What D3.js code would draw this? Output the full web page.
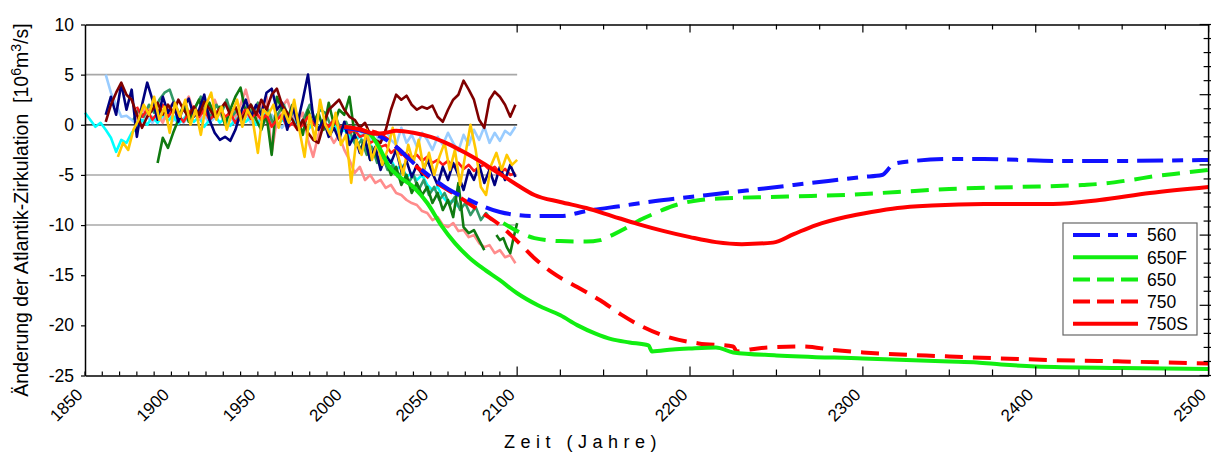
<!DOCTYPE html>
<html><head><meta charset="utf-8">
<script src="https://cdn.jsdelivr.net/npm/d3@7"></script>
<style>
body{margin:0;background:#fff}
svg{display:block;font-family:"Liberation Sans",Arial,Helvetica,sans-serif}
</style>
</head><body>
<svg id="chart" width="1211" height="454"></svg>
<script>
// ---------- tick labels ----------
const xTickLabels = [1850,1900,1950,2000,2050,2100,2200,2300,2400,2500];
const yTickLabels = [10,5,0,-5,-10,-15,-20,-25];
const gridValues = [5,-5,-10];

// ---------- noisy model / reconstruction series (start year, step 3 yrs) ----------
const navyValues = [1.0,2.8,1.0,4.1,1.5,3.5,-1.2,2.0,4.2,2.5,
  0.5,2.8,1.2,2.2,0.3,1.8,2.6,0.8,1.5,3.0,
  0.5,-0.8,-1.5,-1.2,-1.6,-0.5,1.2,2.5,0.8,2.0,
  1.0,3.2,3.6,1.5,2.2,-0.5,1.8,0.2,2.5,5.0,
  0.8,-0.5,0.5,-1.2,-0.3,-1.5,0.3,-2.0,-1.0,-2.8,
  -1.5,-3.5,-2.2,-4.5,-3.0,-3.8,-2.5,-4.6,-3.6,-5.2,
  -4.0,-5.0,-3.5,-4.8,-6.0,-4.2,-5.5,-3.8,-5.0,-6.5,
  -4.5,-5.5,-4.0,-5.8,-4.5,-6.0,-4.2,-5.5,-4.0,-5.2];
const maroonValues = [0.3,2.0,3.2,4.2,3.0,2.5,1.0,-0.3,0.8,1.5,
  2.2,1.0,2.0,1.2,2.5,1.5,0.8,1.8,1.0,2.3,
  1.6,0.8,1.5,2.2,1.0,1.8,0.5,1.2,2.0,1.0,
  2.5,1.5,3.0,3.6,2.0,1.2,0.5,-0.5,0.5,-0.8,
  -1.5,-1.8,0.0,1.5,2.0,2.5,1.5,0.8,0.5,-0.3,
  0.2,-1.0,-1.5,-1.8,-0.5,1.5,3.0,2.5,2.9,2.0,
  1.5,1.8,1.6,1.9,0.8,0.3,1.5,2.5,3.0,4.4,
  3.5,2.5,0.5,-0.3,2.5,3.3,2.8,2.0,0.8,2.0];
const lightBlueValues = [5.0,3.2,2.0,0.8,0.9,0.5,0.0,0.3,0.8,0.2,
  1.0,0.5,1.2,0.4,1.0,0.2,0.8,1.3,0.5,0.9,
  0.2,0.7,1.1,0.3,0.8,0.0,0.6,1.0,0.2,0.8,
  -0.2,0.5,1.0,0.3,-0.3,0.4,0.9,0.0,0.5,-0.5,
  0.2,-0.3,0.4,-0.5,0.0,-0.8,-0.2,-1.0,-0.5,-1.2,
  -0.6,-1.5,-0.8,-1.8,-0.5,-1.5,-2.0,-0.3,-1.8,-1.0,
  -2.2,-0.8,-1.5,-2.5,-1.2,-2.0,-0.8,-1.8,-2.6,-1.0,
  -2.0,-0.5,-1.5,-0.2,-1.8,-0.8,-1.6,-0.6,-1.0,-0.2];
const cyanValues = [1.2,0.5,-0.2,0.2,-0.5,-1.3,-2.7,-1.5,-1.8,-0.8,
  -0.3,0.5,0.0,0.8,0.2,1.0,0.4,0.9,0.1,0.6,
  1.2,0.3,0.8,-0.2,0.5,1.0,0.2,0.7,-0.1,0.5,
  1.1,0.3,0.8,0.0,0.6,1.2,0.4,-0.2,0.5,0.1,
  0.8,-0.3,0.3,-0.5,0.2,-0.4,0.5,-0.6,0.0,-0.8,
  -0.5,-1.2,-1.8,-1.0,-2.5,-2.0,-3.0,-2.5,-3.8,-3.5,
  -4.5,-4.0,-5.2,-4.8,-5.5,-5.0,-6.0,-6.5,-6.2,-7.2,
  -7.8,-7.5,-8.2];
const goldValues = [-3.2,-1.8,-2.5,-0.5,0.5,2.0,1.0,2.8,0.5,1.8,
  -0.8,2.2,0.8,2.5,0.0,1.5,-1.0,2.0,3.2,0.5,
  1.8,-0.5,1.2,2.5,-0.2,1.5,0.5,-2.8,1.5,1.0,
  2.0,-0.3,1.5,0.2,2.5,-0.5,-3.2,1.0,-1.5,2.5,
  0.0,-1.0,1.2,-2.0,-1.0,-5.8,-1.5,-3.0,-0.5,-3.5,
  -1.8,-4.0,-2.5,-0.3,-3.0,-5.0,-2.0,-3.8,-1.5,-4.5,
  -2.8,-5.0,-3.2,-1.8,-4.5,-2.5,-6.0,-3.0,0.0,-2.5,
  -6.2,-7.0,-4.0,-2.8,-4.5,-3.0,-4.0,-3.5];
const darkGreenValues = [-3.8,-1.3,-2.3,-0.8,0.5,2.0,0.3,1.5,2.5,1.0,
  2.2,0.8,1.8,0.0,1.5,2.8,3.7,1.2,2.0,0.5,
  -0.5,1.0,-3.0,2.8,1.5,0.5,2.0,0.8,-1.0,1.5,
  0.0,1.2,-0.5,2.2,0.0,1.5,1.0,2.8,-1.0,-2.5,
  -1.5,-3.5,-2.8,-4.2,-3.5,-5.0,-4.2,-6.0,-5.0,-6.8,
  -5.8,-7.0,-6.2,-7.8,-6.8,-8.5,-7.5,-9.2,-5.8,-10.2,
  -10.8,-10.5,-11.5,-12.5];
const darkGreen2Values = [-11.0,-11.5,-11.3,-12.2,-12.8,-11.2,-9.8];
const seaGreenValues = [0.5,1.5,0.8,2.0,1.2,2.5,3.2,3.5,2.0,1.0,
  2.2,0.5,1.8,2.8,1.5,0.8,2.0,1.2,2.5,0.8,
  1.5,0.2,1.8,1.0,2.2,0.5,1.5,0.0,1.2,2.0,
  0.5,1.5,-0.5,0.8,2.0,0.5,1.5,1.2,0.0,0.8,
  -0.5,0.3,-1.0,-2.2,-1.5,-3.0,-2.2,-3.8,-3.0,-4.5,
  -4.0,-5.2,-4.5,-5.8,-5.0,-6.5,-5.5,-7.0,-6.2,-7.5,
  -6.8,-8.0,-7.2,-8.5,-7.8,-9.0,-8.2,-9.5,-8.8,-9.5];
const salmonValues = [0.5,1.8,0.8,2.0,1.0,0.2,1.5,2.2,0.8,1.8,
  2.8,1.2,0.5,1.8,1.0,2.5,1.2,0.3,1.5,0.8,
  2.0,3.5,1.5,0.5,1.8,2.8,-2.8,0.5,1.8,2.5,
  1.0,0.3,1.2,-1.5,-3.2,-1.0,0.5,-0.8,-1.8,-1.0,
  -2.5,-3.5,-4.8,-4.2,-5.5,-5.0,-5.8,-5.5,-6.3,-6.0,
  -6.8,-7.0,-7.5,-7.8,-8.0,-8.6,-8.8,-9.5,-9.2,-10.0,
  -10.2,-9.8,-10.6,-10.5,-11.2,-11.0,-11.8,-12.2,-12.0,-12.8,
  -12.5,-13.2,-13.0,-13.8];
const thinRedValues = [1.8,0.8,1.5,0.5,1.2,2.0,0.8,1.5,1.0,0.3,
  1.2,1.8,0.8,1.5,0.5,1.0,1.6,0.8,1.2,0.2,
  1.0,1.5,0.6,1.2,0.5,1.0,-0.2,0.5,1.0,-0.3,
  0.2,-0.5,0.0,0.8,0.2,-0.5,0.3,-0.2,0.5,-0.3,
  0.0,-0.8,-0.5,-1.2,-1.0,-1.8,-1.5,-2.2,-2.0,-2.8,
  -2.4,-3.0,-2.8,-3.3,-3.0,-3.6,-3.2,-3.8,-3.5,-4.0,
  -3.6,-4.2,-3.8,-4.4,-4.0,-4.6,-4.2,-4.0,-4.5,-4.2,
  -4.8,-4.4,-5.0,-4.8];

// ---------- scenario runs [year, value] ----------
const run560 = [[2000,-0.3],[2010,-0.6],[2020,-1.1],[2030,-2.2],[2040,-3.8],[2050,-5.2],[2060,-6.4],
  [2070,-7.3],[2080,-8.1],[2090,-8.7],[2100,-9.0],[2110,-9.1],[2125,-9.1],[2140,-8.6],[2160,-8.1],
  [2180,-7.6],[2200,-7.2],[2220,-6.8],[2240,-6.4],[2260,-6.0],[2280,-5.6],[2300,-5.2],[2311,-5.0],
  [2318,-3.9],[2330,-3.6],[2350,-3.4],[2370,-3.4],[2390,-3.5],[2410,-3.6],[2450,-3.6],[2500,-3.5]];
const run650F = [[2000,-0.2],[2008,-0.5],[2014,-0.8],[2020,-2.2],[2026,-4.2],[2032,-5.2],[2040,-6.2],
  [2048,-7.8],[2056,-10.0],[2064,-11.8],[2072,-13.2],[2080,-14.3],[2090,-15.5],[2100,-16.8],[2112,-18.0],
  [2125,-19.0],[2135,-20.0],[2145,-20.8],[2155,-21.4],[2165,-21.7],[2176,-22.0],[2178,-22.6],[2190,-22.4],
  [2200,-22.3],[2215,-22.2],[2225,-22.7],[2250,-23.0],[2300,-23.3],[2350,-23.6],[2366,-23.7],[2380,-23.9],
  [2400,-24.1],[2450,-24.25],[2500,-24.35]];
const run650 = [[2092,-9.8],[2100,-10.6],[2110,-11.3],[2125,-11.6],[2140,-11.65],[2148,-11.5],[2155,-11.0],
  [2163,-10.3],[2171,-9.5],[2180,-8.8],[2190,-8.1],[2206,-7.5],[2225,-7.3],[2245,-7.2],[2270,-7.1],
  [2290,-7.0],[2320,-6.7],[2350,-6.4],[2390,-6.2],[2427,-6.0],[2440,-5.85],[2455,-5.5],[2470,-5.1],
  [2485,-4.8],[2500,-4.5]];
const run750 = [[2000,-0.3],[2010,-0.5],[2020,-0.9],[2030,-2.2],[2040,-3.9],[2050,-5.4],[2060,-6.5],
  [2070,-7.6],[2080,-8.8],[2090,-10.0],[2100,-11.6],[2110,-13.3],[2120,-14.7],[2135,-16.2],[2148,-17.5],
  [2160,-18.9],[2171,-20.0],[2186,-21.1],[2205,-21.8],[2225,-22.1],[2227,-22.6],[2235,-22.4],[2245,-22.2],
  [2265,-22.1],[2283,-22.45],[2300,-22.7],[2350,-23.1],[2408,-23.45],[2450,-23.6],[2500,-23.8]];
const run750S = [[2000,-0.2],[2010,-0.5],[2018,-0.9],[2024,-0.8],[2030,-0.6],[2040,-0.8],[2050,-1.2],
  [2060,-1.9],[2070,-2.8],[2080,-3.8],[2090,-4.9],[2100,-6.0],[2110,-7.0],[2125,-7.7],[2140,-8.3],
  [2155,-9.1],[2170,-9.9],[2185,-10.6],[2200,-11.2],[2215,-11.7],[2230,-11.9],[2248,-11.75],[2260,-10.9],
  [2273,-10.0],[2290,-9.2],[2305,-8.7],[2320,-8.3],[2340,-8.05],[2370,-7.9],[2410,-7.9],[2437,-7.5],
  [2466,-6.8],[2500,-6.2]];
const legendNames = ["560","650F","650","750","750S"];

// ---------- build ----------
const svg = d3.select("#chart");
const x = d3.scaleLinear().domain([1850,2500]).range([85,1208.6]);
const y = d3.scaleLinear().domain([-25,10]).range([375.5,24.5]);
const yRight = d3.scaleLinear().domain([0,5]).range([375.5,24.5]);
const FONT = "'Liberation Sans',Arial,sans-serif";

// gridlines (only for the historical panel)
svg.append("g").selectAll("line").data(gridValues).join("line")
  .attr("x1",x(1850)).attr("x2",x(2100)).attr("y1",d=>y(d)).attr("y2",d=>y(d))
  .attr("stroke","#a8a8a8").attr("stroke-width",1.6);
svg.append("line").attr("x1",x(1850)).attr("x2",x(2100)).attr("y1",y(0)).attr("y2",y(0))
  .attr("stroke","#000").attr("stroke-width",1.3);

const noisy = [
  {values: lightBlueValues, start:1862, step:3, color:"#99ccff"},
  {values: cyanValues, start:1850, step:3, color:"#00ffff"},
  {values: salmonValues, start:1880, step:3, color:"#ff8c8c"},
  {values: seaGreenValues, start:1878, step:3, color:"#339966"},
  {values: darkGreenValues, start:1892, step:3, color:"#107a10"},
  {values: darkGreen2Values, start:2088, step:2, color:"#107a10"},
  {values: thinRedValues, start:1880, step:3, color:"#ff1a1a"},
  {values: navyValues, start:1862, step:3, color:"#00007f"},
  {values: maroonValues, start:1862, step:3, color:"#800000"},
  {values: goldValues, start:1869, step:3, color:"#ffc800"}
];
const lineNoisy = d3.line().x(d=>x(d[0])).y(d=>y(d[1]));
svg.append("g").selectAll("path").data(noisy).join("path")
  .attr("d", s => lineNoisy(s.values.map((v,i)=>[s.start + i*s.step, v])))
  .attr("fill","none").attr("stroke", s=>s.color).attr("stroke-width",2.6)
  .attr("stroke-linejoin","round");

const runs = [
  {name:"750", data: run750, color:"#ff0000", dash:"18,10"},
  {name:"650F", data: run650F, color:"#11ee11", dash:null},
  {name:"650", data: run650, color:"#11ee11", dash:"18,10"},
  {name:"560", data: run560, color:"#1111ff", dash:"26,9,11,9"},
  {name:"750S", data: run750S, color:"#ff0000", dash:null}
];
const lineRun = d3.line().x(d=>x(d[0])).y(d=>y(d[1])).curve(d3.curveMonotoneX);
svg.append("g").selectAll("path").data(runs).join("path")
  .attr("d", r=>lineRun(r.data)).attr("fill","none").attr("stroke", r=>r.color)
  .attr("stroke-width",4).attr("stroke-dasharray", r=>r.dash);

// ---------- axes ----------
const fmt = d => String(d);
// bottom axis with rotated labels
const gx = svg.append("g").attr("transform",`translate(0,${y(-25)})`)
  .call(d3.axisBottom(x).tickValues(xTickLabels).tickSize(0).tickSizeOuter(0).tickFormat(fmt));
gx.select(".domain").attr("stroke","#000").attr("stroke-width",1.5);
gx.selectAll("text").attr("y",0).attr("dy","0.35em").attr("text-anchor","end")
  .attr("transform","translate(-6,16) rotate(-45)").style("font-size","17px").attr("fill","#000")
  .style("font-family",FONT);

const minorPre = d3.range(1850,2100,10);
const minorPost = d3.range(2100,2501,25);
svg.append("g").selectAll("line").data(minorPre).join("line")
  .attr("x1",d=>x(d)).attr("x2",d=>x(d)).attr("y1",y(-25)).attr("y2",y(-25)-4)
  .attr("stroke","#000").attr("stroke-width",1.2);
svg.append("g").selectAll("line").data(minorPost).join("line")
  .attr("x1",d=>x(d)).attr("x2",d=>x(d)).attr("y1",y(-25)).attr("y2",d=>y(-25)-(d%100===0?9:6))
  .attr("stroke","#000").attr("stroke-width",1.2);
// top axis
const gt = svg.append("g").attr("transform",`translate(0,${y(10)})`)
  .call(d3.axisTop(x).tickValues([]).tickSizeOuter(0));
gt.select(".domain").attr("stroke","#000").attr("stroke-width",1.5);
svg.append("g").selectAll("line").data(minorPost).join("line")
  .attr("x1",d=>x(d)).attr("x2",d=>x(d)).attr("y1",y(10)).attr("y2",d=>y(10)+(d%100===0?8:5))
  .attr("stroke","#000").attr("stroke-width",1.2);
// left axis
const gy = svg.append("g").attr("transform",`translate(${x(1850)},0)`)
  .call(d3.axisLeft(y).tickValues(yTickLabels).tickSize(4).tickSizeOuter(0).tickPadding(7).tickFormat(fmt));
gy.select(".domain").attr("stroke","#000").attr("stroke-width",1.5);
gy.selectAll(".tick line").attr("stroke","#000").attr("stroke-width",1.2);
gy.selectAll("text").style("font-size","17.5px").attr("fill","#000").style("font-family",FONT);
// right axis (unlabelled)
svg.append("line").attr("x1",x(2500)).attr("x2",x(2500)).attr("y1",y(10)).attr("y2",y(-25))
  .attr("stroke","#000").attr("stroke-width",1.5);
const rTicks = d3.range(0,26).map(i=>i/5);
svg.append("g").selectAll("line").data(rTicks).join("line")
  .attr("x1",(d,i)=>x(2500)-(i%5===0?9:5)).attr("x2",x(2500)+3)
  .attr("y1",d=>yRight(d)).attr("y2",d=>yRight(d))
  .attr("stroke","#000").attr("stroke-width",1.2);

// axis titles
const yt = svg.append("text").attr("transform","translate(28,210) rotate(-90)")
  .attr("text-anchor","middle").style("font-size","19.5px").style("white-space","pre").attr("fill","#000");
yt.append("tspan").text("Änderung der Atlantik-Zirkulation  [10");
yt.append("tspan").attr("dy",-7).style("font-size","14px").text("6");
yt.append("tspan").attr("dy",7).text("m");
yt.append("tspan").attr("dy",-7).style("font-size","14px").text("3");
yt.append("tspan").attr("dy",7).text("/s]");

svg.append("text").attr("x",583).attr("y",448).attr("text-anchor","middle")
  .style("font-size","18px").style("letter-spacing","5.5px").attr("fill","#000")
  .text("Zeit (Jahre)");

// legend
const lg = svg.append("g").attr("transform","translate(1063,223)");
lg.append("rect").attr("width",134).attr("height",112).attr("fill","#fff")
  .attr("stroke","#666").attr("stroke-width",1.2);
const legendStyle = {
  "560": {color:"#1111ff", dash:"27,8,10,9,10"},
  "650F": {color:"#11ee11", dash:null},
  "650": {color:"#11ee11", dash:"17,7,17,7,17"},
  "750": {color:"#ff0000", dash:"17,7,17,7,17"},
  "750S": {color:"#ff0000", dash:null}
};
const rows = lg.selectAll("g.row").data(legendNames).join("g")
  .attr("transform",(d,i)=>`translate(0,${12+i*22.2})`);
rows.append("line").attr("x1",10).attr("x2",75).attr("stroke",d=>legendStyle[d].color)
  .attr("stroke-width",4).attr("stroke-dasharray",d=>legendStyle[d].dash);
rows.append("text").attr("x",84).attr("dy","0.36em").style("font-size","17.5px").attr("fill","#000").text(d=>d);
</script>
</body></html>
